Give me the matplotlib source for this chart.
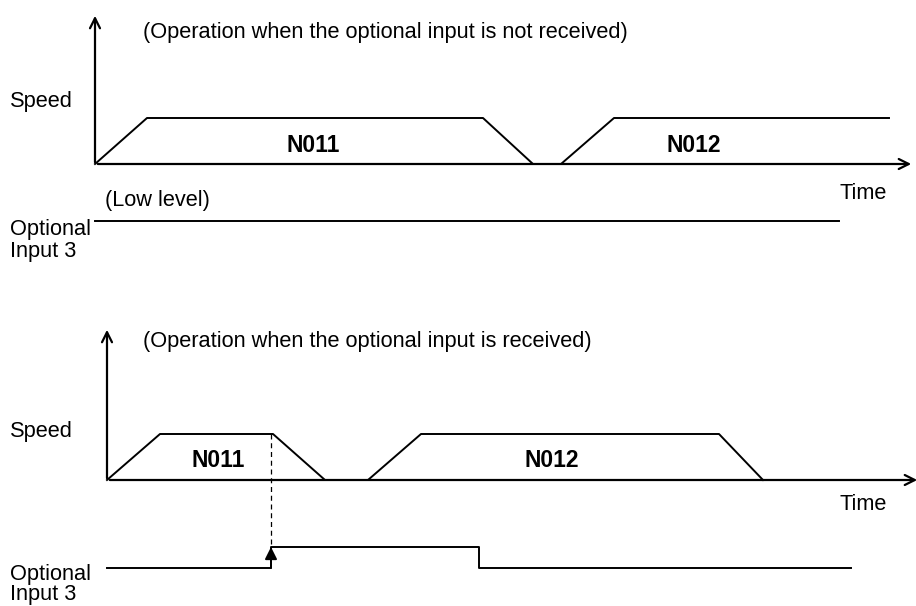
import matplotlib.pyplot as plt
from matplotlib.patches import FancyArrowPatch

plt.rcParams['font.family'] = ['Liberation Sans', 'DejaVu Sans']

# --- Dados (unidades: pixels a partir da origem de cada painel) ---
# Painel superior: entrada opcional NAO recebida
t_sup = [0, 52, 388, 438, 466, 519, 794]
v_sup = [0, 1, 1, 0, 0, 1, 1]
entrada_sup_t = [0, 744]
entrada_sup_nivel = [0, 0]

# Painel inferior: entrada opcional recebida
t_inf = [0, 53, 166, 218, 261, 314, 612, 656]
v_inf = [0, 1, 1, 0, 0, 1, 1, 0]
entrada_inf_t = [0, 164, 164, 372, 372, 744]
entrada_inf_nivel = [0, 0, 1, 1, 0, 0]
t_disparo = 164

rotulos_sup = ["N011", "N012"]
rotulos_inf = ["N011", "N012"]

ALTURA_VEL = 46      # px para velocidade = 1
ALTURA_ENT = 21      # px para entrada alta

fig = plt.figure(figsize=(9.16, 6.06), dpi=100)
ax = fig.add_axes([0, 0, 1, 1])
ax.set_xlim(0, 916)
ax.set_ylim(606, 0)
ax.axis('off')

fs = 15.7
fsb = 16.5


def eixos(x0, y0, ytop, xfim):
    ax.add_patch(FancyArrowPatch((x0, y0 + 1), (x0, ytop), arrowstyle='->',
                                 mutation_scale=18, lw=1.6, color='black'))
    ax.add_patch(FancyArrowPatch((x0, y0), (xfim, y0), arrowstyle='->',
                                 mutation_scale=18, lw=1.6, color='black'))


# ---------- Painel superior ----------
ox, oy = 95, 164
eixos(ox, oy, 13, 914)
ax.plot([ox + t for t in t_sup], [oy - v * ALTURA_VEL for v in v_sup],
        color='black', lw=1.4)
ax.text(313, 152, rotulos_sup[0], fontsize=fsb,
        fontweight='bold', ha='center', va='baseline')
ax.text(694, 152, rotulos_sup[1], fontsize=fsb,
        fontweight='bold', ha='center', va='baseline')
ax.text(143, 38, "(Operation when the optional input is not received)",
        fontsize=fs, va='baseline')
ax.text(10, 107, "Speed", fontsize=fs, va='baseline')
ax.text(839, 199, "Time", fontsize=fs, va='baseline')
ax.text(105, 206, "(Low level)", fontsize=fs, va='baseline')
ax.text(10, 235, "Optional", fontsize=fs, va='baseline')
ax.text(10, 257, "Input 3", fontsize=fs, va='baseline')
ax.plot([ox + t for t in entrada_sup_t],
        [221 - n * ALTURA_ENT for n in entrada_sup_nivel], color='black', lw=1.4)

# ---------- Painel inferior ----------
ox, oy = 107, 480
eixos(ox, oy, 327, 920)
ax.plot([ox + t for t in t_inf], [oy - v * ALTURA_VEL for v in v_inf],
        color='black', lw=1.4)
ax.text(218, 467, rotulos_inf[0], fontsize=fsb, fontweight='bold',
        ha='center', va='baseline')
ax.text(552, 467, rotulos_inf[1], fontsize=fsb, fontweight='bold',
        ha='center', va='baseline')
ax.text(143, 347, "(Operation when the optional input is received)",
        fontsize=fs, va='baseline')
ax.text(10, 437, "Speed", fontsize=fs, va='baseline')
ax.text(839, 510, "Time", fontsize=fs, va='baseline')
ax.text(10, 580, "Optional", fontsize=fs, va='baseline')
ax.text(10, 600, "Input 3", fontsize=fs, va='baseline')

base_ent = 568
xs = [ox + t for t in entrada_inf_t]
ys = [base_ent - n * ALTURA_ENT for n in entrada_inf_nivel]
ax.plot(xs, ys, color='black', lw=1.4)
ax.plot([ox + t_disparo] * 2, [oy - ALTURA_VEL, base_ent - ALTURA_ENT],
        color='black', lw=0.9, ls=(0, (4, 3)))
ax.add_patch(FancyArrowPatch((ox + t_disparo, base_ent), (ox + t_disparo, base_ent - ALTURA_ENT),
                             arrowstyle='-|>', mutation_scale=18, lw=1.4,
                             color='black', shrinkA=0, shrinkB=0))

fig.savefig('out.png', dpi=100)
